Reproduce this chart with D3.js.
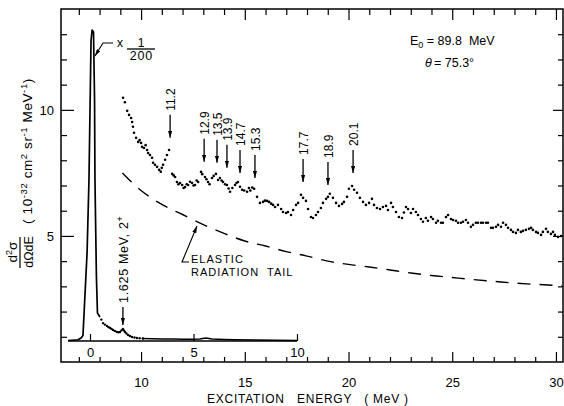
<!DOCTYPE html>
<html><head><meta charset="utf-8">
<script src="https://cdn.jsdelivr.net/npm/d3@7"></script>
<style>body{margin:0;background:#fff}text{font-family:"Liberation Sans",Arial,sans-serif;fill:#000}</style>
</head><body><svg id="c" width="564" height="406"></svg>
<script>
// ---------------- data ----------------
const mainE = [9.13,9.22,9.33,9.42,9.52,9.57,9.61,9.66,9.76,9.86,9.93,10.00,10.05,10.14,10.22,10.29,10.34,10.43,10.53,10.58,10.67,10.77,10.87,10.95,11.00,11.06,11.16,11.25,11.35,11.50,11.57,11.64,11.73,11.80,11.88,11.98,12.05,12.12,12.20,12.27,12.36,12.46,12.53,12.60,12.68,12.75,12.89,12.95,13.08,13.15,13.23,13.30,13.42,13.50,13.61,13.71,13.80,13.88,13.95,14.05,14.14,14.22,14.29,14.40,14.53,14.60,14.67,14.77,14.87,14.97,15.11,15.20,15.27,15.36,15.45,15.59,15.73,15.88,15.97,16.07,16.17,16.27,16.36,16.46,16.60,16.75,16.84,16.99,17.08,17.23,17.33,17.47,17.57,17.71,17.81,17.95,18.05,18.19,18.29,18.43,18.53,18.67,18.77,18.92,19.01,19.10,19.25,19.40,19.54,19.69,19.78,19.93,20.02,20.17,20.27,20.41,20.55,20.70,20.84,20.99,21.13,21.23,21.37,21.52,21.66,21.81,21.90,22.05,22.14,22.29,22.43,22.58,22.67,22.77,22.87,23.01,23.11,23.25,23.35,23.49,23.59,23.73,23.83,23.98,24.07,24.22,24.31,24.46,24.55,24.70,24.80,24.94,25.04,25.18,25.28,25.42,25.52,25.66,25.76,25.90,26.00,26.14,26.24,26.39,26.48,26.63,26.72,26.87,26.96,27.11,27.21,27.35,27.45,27.59,27.69,27.83,27.93,28.07,28.17,28.31,28.41,28.55,28.70,28.80,28.89,29.04,29.13,29.28,29.37,29.52,29.61,29.76,29.86,29.95,30.10,30.25];
const mainS = [10.48,10.30,9.96,9.80,9.68,9.52,9.33,9.09,8.89,8.73,8.80,8.69,8.53,8.49,8.60,8.41,8.29,8.21,8.10,7.90,7.82,7.74,7.62,7.55,7.70,7.82,8.02,8.21,8.41,7.46,7.40,7.34,7.14,7.05,7.10,7.02,6.90,6.94,7.05,7.02,7.15,7.10,7.00,7.02,7.20,7.14,7.54,7.45,7.34,7.25,7.14,7.05,7.30,7.38,7.46,7.22,7.30,7.20,7.14,7.05,7.02,6.88,6.75,6.90,7.02,7.10,7.14,6.95,6.83,6.80,6.75,6.90,6.80,6.92,6.87,6.55,6.31,6.35,6.40,6.39,6.35,6.28,6.23,6.15,6.23,6.07,5.95,5.91,5.95,5.83,6.03,6.23,6.31,6.63,6.51,6.39,6.07,5.75,5.71,5.83,5.95,6.11,6.31,6.47,6.55,6.67,6.51,6.31,6.19,6.27,6.35,6.55,6.87,6.98,6.83,6.71,6.51,6.35,6.23,6.31,6.47,6.23,6.11,6.07,6.15,6.19,6.03,6.31,6.15,5.95,5.75,5.71,5.93,6.15,6.07,5.91,6.07,5.95,5.83,5.67,5.56,5.71,5.60,5.75,5.67,5.52,5.60,5.52,5.52,5.75,5.83,5.67,5.63,5.60,5.52,5.52,5.56,5.63,5.52,5.36,5.44,5.52,5.52,5.52,5.52,5.52,5.52,5.32,5.32,5.36,5.44,5.36,5.52,5.44,5.32,5.24,5.16,5.12,5.24,5.16,5.20,5.24,5.28,5.32,5.24,5.16,5.12,5.04,5.16,5.28,5.16,5.08,5.16,5.04,4.96,5.00];

const tailE = [9.1,10,11,12,13,14,15,16,17,18,19,20,21,22,23,24,25,26,27,28,29,30.3];
const tailS = [7.5,6.8,6.25,5.85,5.45,5.1,4.8,4.6,4.38,4.2,4.0,3.87,3.77,3.65,3.53,3.43,3.35,3.27,3.2,3.13,3.08,3.03];

const insetPeakE = [-1.06,-0.58,-0.43,-0.34,-0.14,-0.05,0.05,0.10,0.17,0.22,0.24,0.31,0.36,0.48];
const insetPeakS = [0.02,0.05,0.12,0.22,3.53,6.39,11.9,12.34,12.26,9.56,6.39,2.54,1.11,0.95];
const insetDotE = [0.55,0.63,0.72,0.82,0.90,0.97,1.04,1.11,1.20,1.30,1.38,1.45,1.52,1.59,1.64,1.69,1.76,1.84,1.93,2.03,2.15,2.27,2.40,2.56];
const insetDotS = [0.85,0.71,0.65,0.60,0.55,0.52,0.48,0.44,0.40,0.36,0.35,0.36,0.42,0.48,0.42,0.36,0.30,0.24,0.20,0.16,0.14,0.12,0.11,0.10];
const insetBaseE = [2.5,3.0,3.5,4.0,4.5,5.0,5.3,5.6,5.9,6.5,7.0,8.0,9.0,10.0];
const insetBaseS = [0.10,0.09,0.08,0.08,0.07,0.07,0.08,0.12,0.08,0.06,0.05,0.04,0.03,0.02];

const xTicks = [10,15,20,25,30];
const xTickLabels = ["10","15","20","25","30"];
const yTicks = [5,10];
const yTickLabels = ["5","10"];
const insetTicks = [0,5,10];
const insetTickLabels = ["0","5","10"];

const peakLabels = ["11.2","12.9","13.5","13.9","14.7","15.3","17.7","18.9","20.1"];
const peakArrowE = [11.40,13.04,13.66,14.14,14.77,15.49,17.81,19.01,20.22];
const peakArrowTip = [8.89,7.94,7.90,7.70,7.50,7.30,7.14,7.02,7.50];

// ---------------- layout ----------------
const svg = d3.select("#c");
svg.append("rect").attr("width",564).attr("height",406).attr("fill","#fff");
const x = d3.scaleLinear().domain([6.14,30.34]).range([61,563]);
const y = d3.scaleLinear().domain([0,14]).range([362,9]);
const ix = d3.scaleLinear().domain([0,10]).range([90,297]);
const iy = d3.scaleLinear().domain([0,12.5]).range([341,341-12.5*25.2]);

const defs = svg.append("defs");
defs.append("marker").attr("id","ah").attr("viewBox","0 0 10 6").attr("refX",10).attr("refY",3)
  .attr("markerWidth",7).attr("markerHeight",4.2).attr("markerUnits","userSpaceOnUse").attr("orient","auto")
  .append("path").attr("d","M0,0L10,3L0,6z").attr("fill","#000");

function styleAxis(g, fs){
  g.select(".domain").remove();
  g.selectAll("line").attr("stroke","#000").attr("stroke-width",1.2);
  g.attr("font-family","Liberation Sans, Arial, sans-serif").attr("font-size",fs);
  g.selectAll("text").attr("fill","#000");
}
const minorX = d3.range(7,31).filter(d=>!xTicks.includes(d));
const minorY = d3.range(1,14).filter(d=>!yTicks.includes(d));

// bottom
styleAxis(svg.append("g").attr("transform","translate(0,362)")
  .call(d3.axisBottom(x).tickValues(xTicks).tickFormat((d,i)=>xTickLabels[i]).tickSize(-10).tickPadding(16).tickSizeOuter(0)),13);
styleAxis(svg.append("g").attr("transform","translate(0,362)")
  .call(d3.axisBottom(x).tickValues(minorX).tickFormat("").tickSize(-5).tickSizeOuter(0)),12);
// top
styleAxis(svg.append("g").attr("transform","translate(0,9)")
  .call(d3.axisTop(x).tickValues(xTicks).tickFormat("").tickSize(-11).tickSizeOuter(0)),12);
styleAxis(svg.append("g").attr("transform","translate(0,9)")
  .call(d3.axisTop(x).tickValues(minorX).tickFormat("").tickSize(-6).tickSizeOuter(0)),12);
// left
styleAxis(svg.append("g").attr("transform","translate(61,0)")
  .call(d3.axisLeft(y).tickValues(yTicks).tickFormat((d,i)=>yTickLabels[i]).tickSize(-13).tickPadding(7).tickSizeOuter(0)),13);
styleAxis(svg.append("g").attr("transform","translate(61,0)")
  .call(d3.axisLeft(y).tickValues(minorY).tickFormat("").tickSize(-6).tickSizeOuter(0)),12);
// right
styleAxis(svg.append("g").attr("transform","translate(563,0)")
  .call(d3.axisRight(y).tickValues(yTicks).tickFormat("").tickSize(-10).tickSizeOuter(0)),12);
styleAxis(svg.append("g").attr("transform","translate(563,0)")
  .call(d3.axisRight(y).tickValues(minorY).tickFormat("").tickSize(-5).tickSizeOuter(0)),12);

// frame
svg.append("rect").attr("x",61).attr("y",9).attr("width",502).attr("height",353)
  .attr("fill","none").attr("stroke","#000").attr("stroke-width",1.5);

// inset axis
svg.append("line").attr("x1",ix(-1.06)).attr("x2",ix(10)).attr("y1",iy(0)).attr("y2",iy(0))
  .attr("stroke","#000").attr("stroke-width",1.5);
styleAxis(svg.append("g").attr("transform",`translate(0,${iy(0)})`)
  .call(d3.axisBottom(ix).tickValues(insetTicks).tickFormat((d,i)=>insetTickLabels[i]).tickSize(-7).tickPadding(7).tickSizeOuter(0)),13);

// inset data
const line = d3.line();
svg.append("path").attr("d", line(insetPeakE.map((e,i)=>[ix(e), iy(insetPeakS[i])])))
  .attr("fill","none").attr("stroke","#000").attr("stroke-width",1.7).attr("stroke-linejoin","round");
svg.append("g").selectAll("circle").data(insetDotE).join("circle")
  .attr("cx",(d)=>ix(d)).attr("cy",(d,i)=>iy(insetDotS[i])).attr("r",1.2).attr("fill","#000");
svg.append("path").attr("d", line(insetBaseE.map((e,i)=>[ix(e), iy(insetBaseS[i])])))
  .attr("fill","none").attr("stroke","#000").attr("stroke-width",1.4);

// main dots
svg.append("g").selectAll("circle").data(mainE).join("circle")
  .attr("cx",d=>x(d)).attr("cy",(d,i)=>y(mainS[i])).attr("r",1.3).attr("fill","#000");

// elastic tail dashed
svg.append("path").attr("d", d3.line().curve(d3.curveMonotoneX)(tailE.map((e,i)=>[x(e), y(tailS[i])])))
  .attr("fill","none").attr("stroke","#000").attr("stroke-width",1.4).attr("stroke-dasharray","13,9");

// peak arrows + labels
peakLabels.forEach((lab,i)=>{
  const ax = x(peakArrowE[i]), tip = y(peakArrowTip[i]);
  svg.append("line").attr("x1",ax).attr("x2",ax).attr("y1",tip-23).attr("y2",tip)
    .attr("stroke","#000").attr("stroke-width",1.3).attr("marker-end","url(#ah)");
  svg.append("text").attr("transform",`translate(${ax+0.5},${tip-27}) rotate(-90)`)
    .attr("dy","0.36em").attr("font-size",12).text(lab);
});

// 1.625 MeV label
{
  const ax = ix(1.59), tip = 325;
  svg.append("line").attr("x1",ax).attr("x2",ax).attr("y1",tip-18).attr("y2",tip)
    .attr("stroke","#000").attr("stroke-width",1.3).attr("marker-end","url(#ah)");
  const t = svg.append("text").attr("transform",`translate(${ax+1},${tip-22}) rotate(-90)`)
    .attr("dy","0.36em").attr("font-size",12.5).attr("letter-spacing",0.7);
  t.append("tspan").text("1.625 MeV, 2");
  t.append("tspan").attr("font-size",9).attr("dy",-5).text("+");
}

// x 1/200
svg.append("text").attr("x",117).attr("y",47).attr("font-size",12).text("x");
svg.append("text").attr("x",141).attr("y",47).attr("text-anchor","middle").attr("font-size",12).text("1");
svg.append("line").attr("x1",127).attr("x2",155).attr("y1",49).attr("y2",49).attr("stroke","#000").attr("stroke-width",1.3);
svg.append("text").attr("x",141.5).attr("y",60).attr("text-anchor","middle").attr("font-size",12.5).attr("letter-spacing",0.8).text("200");
svg.append("path").attr("d","M113,43L103,43L95,56").attr("fill","none").attr("stroke","#000")
  .attr("stroke-width",1.1).attr("marker-end","url(#ah)");

// E0 and theta
{
  const t = svg.append("text").attr("x",410).attr("y",45).attr("font-size",12.5).attr("xml:space","preserve");
  t.append("tspan").text("E");
  t.append("tspan").attr("font-size",9).attr("dy",3).text("0");
  t.append("tspan").attr("dy",-3).text(" = 89.8  MeV");
  svg.append("text").attr("x",425).attr("y",67).attr("font-size",12.5).attr("font-style","italic").text("θ");
  svg.append("text").attr("x",434).attr("y",67).attr("font-size",12.5).text("= 75.3°");
}

// elastic radiation tail label
svg.append("text").attr("x",191).attr("y",263).attr("font-size",11).attr("letter-spacing",1).text("ELASTIC");
svg.append("text").attr("x",191).attr("y",276).attr("font-size",11).attr("letter-spacing",1)
  .attr("xml:space","preserve").text("RADIATION  TAIL");
svg.append("path").attr("d","M189,262L182,262L197,226").attr("fill","none").attr("stroke","#000")
  .attr("stroke-width",1.1).attr("marker-end","url(#ah)");

// x axis title
svg.append("text").attr("x",207).attr("y",403).attr("font-size",12).attr("xml:space","preserve")
  .attr("textLength",201).attr("lengthAdjust","spacing").text("EXCITATION   ENERGY   ( MeV )");

// y axis title
svg.append("text").attr("transform","translate(17,252) rotate(-90)").attr("text-anchor","middle").attr("font-size",13.5)
  .call(t=>{ t.append("tspan").text("d"); t.append("tspan").attr("font-size",9).attr("dy",-5).text("2"); t.append("tspan").attr("dy",5).text("σ"); });
svg.append("line").attr("x1",20).attr("x2",20).attr("y1",237).attr("y2",268).attr("stroke","#000").attr("stroke-width",1.2);
svg.append("text").attr("transform","translate(33,252) rotate(-90)").attr("text-anchor","middle").attr("font-size",12.5).text("dΩdE");
{
  const t = svg.append("text").attr("transform","translate(32,151) rotate(-90)").attr("text-anchor","middle")
    .attr("font-size",13.5).attr("letter-spacing",0.6).attr("xml:space","preserve");
  t.append("tspan").text("( 10");
  t.append("tspan").attr("font-size",9.5).attr("dy",-5).text("-32");
  t.append("tspan").attr("dy",5).text(" cm");
  t.append("tspan").attr("font-size",9.5).attr("dy",-5).text("2");
  t.append("tspan").attr("dy",5).text(" sr");
  t.append("tspan").attr("font-size",9.5).attr("dy",-5).text("-1");
  t.append("tspan").attr("dy",5).text(" MeV");
  t.append("tspan").attr("font-size",9.5).attr("dy",-5).text("-1");
  t.append("tspan").attr("dy",5).text(")");
}
</script></body></html>
